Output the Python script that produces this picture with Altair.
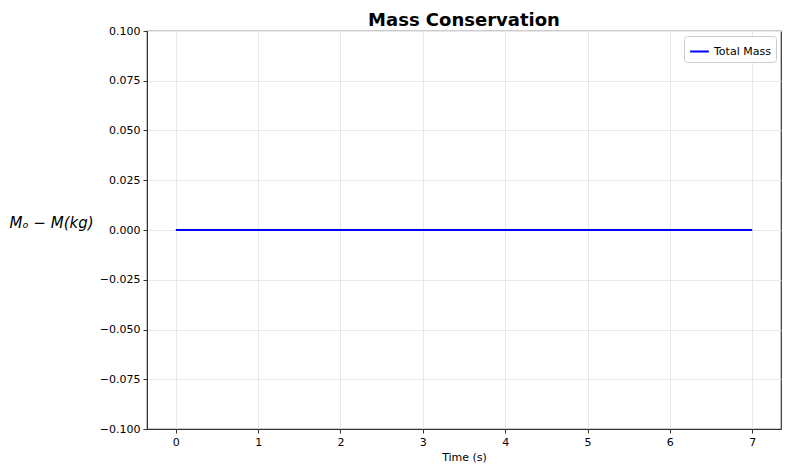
import altair as alt
import pandas as pd

time_s = [0, 1, 2, 3, 4, 5, 6, 7]
mass_diff = [0.0, 0.0, 0.0, 0.0, 0.0, 0.0, 0.0, 0.0]
series = ["Total Mass"] * len(time_s)
x_ticks = [0, 1, 2, 3, 4, 5, 6, 7]
y_ticks = [-0.1, -0.075, -0.05, -0.025, 0.0, 0.025, 0.05, 0.075, 0.1]

df = pd.DataFrame({"t": time_s, "m": mass_diff, "s": series})

FONT = "DejaVu Sans"

chart = alt.Chart(df).mark_line(strokeWidth=1.8).encode(
    x=alt.X("t:Q", scale=alt.Scale(domain=[-0.35, 7.35], nice=False, zero=False),
            axis=alt.Axis(values=x_ticks, title="Time (s)", format="d", titleFontWeight="normal",
                          titleFontSize=11, titlePadding=4, labelFontSize=11, labelPadding=3,
                          tickSize=4, gridColor="#e8e8e8", domainColor="#333", tickColor="#333",
                          labelColor="black", titleColor="black", labelFont=FONT, titleFont=FONT)),
    y=alt.Y("m:Q", scale=alt.Scale(domain=[-0.1, 0.1], nice=False, zero=False),
            axis=alt.Axis(values=y_ticks, title="Mₒ − M(kg)", format=".3f",
                          labelExpr="replace(datum.label, '-', '−')",
                          titleAngle=0, titleX=-96, titleY=191, titleAlign="center",
                          titleBaseline="middle", titleFontStyle="italic", titleFontWeight="normal",
                          titleFontSize=15, labelFontSize=11, labelPadding=3, tickSize=4,
                          gridColor="#e8e8e8", domainColor="#333", tickColor="#333",
                          labelColor="black", titleColor="black", labelFont=FONT, titleFont=FONT)),
    color=alt.Color("s:N", scale=alt.Scale(domain=["Total Mass"], range=["#0000ff"]),
                    legend=alt.Legend(title=None, orient="top-right", symbolType="stroke",
                                      symbolStrokeWidth=2, symbolSize=350, labelFontSize=11,
                                      labelFont=FONT, labelColor="black",
                                      strokeColor="#cccccc", fillColor="white", padding=5,
                                      cornerRadius=3, offset=5)),
).properties(
    width=634, height=398,
    title=alt.TitleParams("Mass Conservation", fontSize=18, font=FONT, fontWeight="bold",
                          anchor="middle", offset=6, dy=11, color="black"),
    autosize=alt.AutoSizeParams(type="none"),
    padding={"left": 139, "top": 23, "right": 4, "bottom": 40},
).configure_view(stroke="#333", strokeWidth=1.2)

chart.save("out.html", embed_options={"renderer": "svg", "actions": False})
